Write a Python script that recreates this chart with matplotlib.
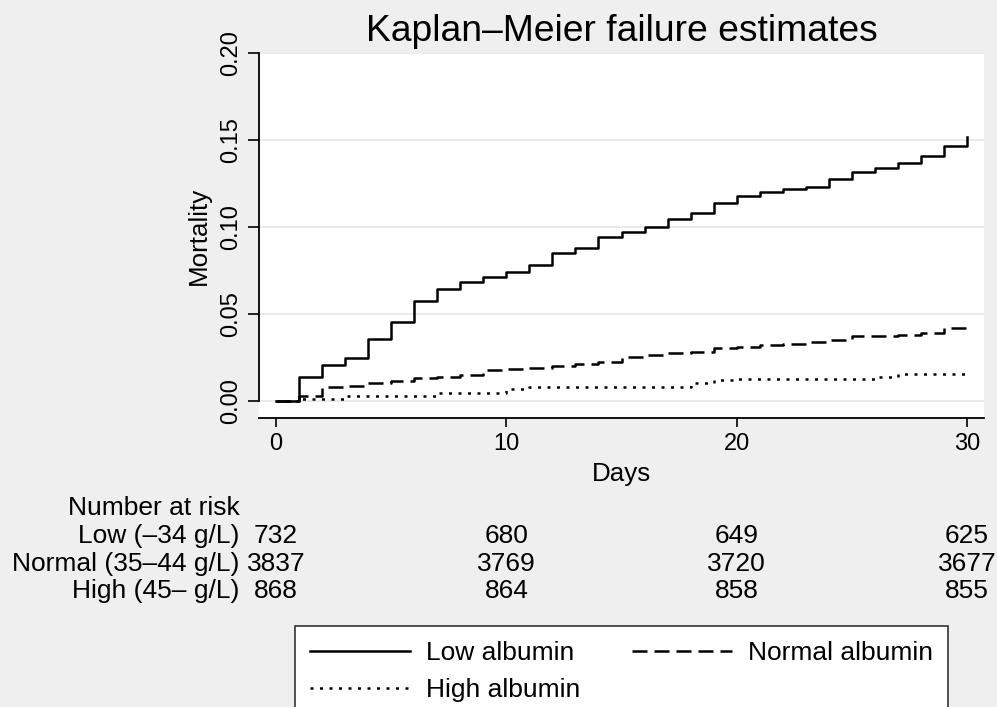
import matplotlib
matplotlib.use('Agg')
import matplotlib.pyplot as plt
from matplotlib.transforms import blended_transform_factory

plt.rcParams['font.family'] = ['Liberation Sans', 'DejaVu Sans']

# days since admission and KM failure estimates
days = list(range(31))
low = [0.0, 0.0136, 0.0207, 0.0245, 0.0356, 0.0452, 0.0575, 0.0646, 0.0684, 0.0713,
       0.0740, 0.0782, 0.0852, 0.0877, 0.0944, 0.0973, 0.1002, 0.1044, 0.1082, 0.1136,
       0.1180, 0.1203, 0.1216, 0.1232, 0.1274, 0.1314, 0.1341, 0.1370, 0.1410, 0.1466,
       0.1519]
normal = [0.0, 0.0030, 0.0079, 0.0086, 0.0104, 0.0117, 0.0130, 0.0136, 0.0149, 0.0178,
          0.0184, 0.0192, 0.0203, 0.0213, 0.0226, 0.0255, 0.0266, 0.0276, 0.0284, 0.0305,
          0.0312, 0.0320, 0.0328, 0.0341, 0.0352, 0.0372, 0.0375, 0.0380, 0.0390, 0.0418,
          0.0418]
high = [0.0, 0.0011, 0.0011, 0.0028, 0.0028, 0.0028, 0.0028, 0.0044, 0.0044, 0.0044,
        0.0071, 0.0082, 0.0082, 0.0082, 0.0082, 0.0082, 0.0082, 0.0082, 0.0105, 0.0121,
        0.0126, 0.0126, 0.0126, 0.0126, 0.0126, 0.0126, 0.0140, 0.0153, 0.0153, 0.0153,
        0.0153]

# number at risk table
risk_days = [0, 10, 20, 30]
risk_groups = ['Low (\u201334 g/L)', 'Normal (35\u201344 g/L)', 'High (45\u2013 g/L)']
risk_low = [732, 680, 649, 625]
risk_normal = [3837, 3769, 3720, 3677]
risk_high = [868, 864, 858, 855]

bg = '#efefef'
W, H = 997, 707
fig = plt.figure(figsize=(W / 100, H / 100), dpi=100, facecolor=bg)
ax = fig.add_axes([259 / W, 1 - 418 / H, (984 - 259) / W, (418 - 53) / H])
ax.set_facecolor('white')

lw = 1.8
l1, = ax.step(days, low, where='post', color='black', lw=lw, label='Low albumin')
l2, = ax.step(days, normal, where='post', color='black', lw=lw,
              linestyle=(0, (6, 2.8)), label='Normal albumin')
l3, = ax.step(days, high, where='post', color='black', lw=lw,
              linestyle=(0, (1.2, 2.6)), label='High albumin')

ax.set_xlim(-0.74, 30.74)
ax.set_ylim(-0.0098, 0.2)
ax.set_xticks([0, 10, 20, 30])
ax.set_yticks([0, 0.05, 0.10, 0.15, 0.20])
ax.set_yticklabels(['0.00', '0.05', '0.10', '0.15', '0.20'])
ax.grid(axis='y', color='#e4e4e4', lw=1.1)
ax.set_axisbelow(True)
for s in ['top', 'right']:
    ax.spines[s].set_visible(False)
for s in ['left', 'bottom']:
    ax.spines[s].set_linewidth(1.3)
ax.spines['left'].set_bounds(0, 0.2)

ax.tick_params(axis='y', length=8, width=1.2, pad=4.5, labelsize=17, labelrotation=90)
ax.tick_params(axis='x', length=6.5, width=1.2, pad=4.5, labelsize=17)
plt.setp(ax.get_yticklabels(), va='center')

ax.set_ylabel('Mortality', fontsize=18.7, va='center')
ax.yaxis.set_label_coords((199 - 259) / 725, 0.5)
ax.set_xlabel('Days', fontsize=18.7, va='baseline')
ax.xaxis.set_label_coords(0.5, (418 - 481.5) / 365)

fig.text(621.5 / W, 1 - 41 / H, 'Kaplan\u2013Meier failure estimates',
         fontsize=26.8, ha='center', va='baseline')

# number at risk
tr = blended_transform_factory(ax.transData, fig.transFigure)
fig.text(240 / W, 1 - 515 / H, 'Number at risk', fontsize=19, ha='right', va='baseline')
rows_y = [543, 571, 598]
for grp, vals, yy in zip(risk_groups, [risk_low, risk_normal, risk_high], rows_y):
    fig.text(239 / W, 1 - yy / H, grp, fontsize=19, ha='right', va='baseline')
    for d, v in zip(risk_days, vals):
        ax.text(d, 1 - yy / H, str(v), transform=tr, fontsize=19,
                ha='center', va='baseline', clip_on=False)

leg = fig.legend(handles=[l1, l3, l2], ncol=2, fontsize=19,
                 loc='upper left', mode='expand',
                 bbox_to_anchor=(295 / W, 0.0, (948 - 295) / W, 1 - 626 / H),
                 borderaxespad=0, borderpad=0.57, labelspacing=0.5,
                 handlelength=3.8, handletextpad=0.6, columnspacing=1.8,
                 fancybox=False, framealpha=1, facecolor='white', edgecolor='#333333')
leg.get_frame().set_linewidth(1.2)

fig.savefig('out.png', dpi=100, facecolor=bg)
